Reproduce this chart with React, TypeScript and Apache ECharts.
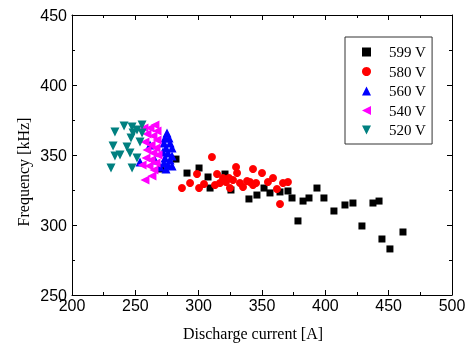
import React, { useEffect, useRef } from "react";
import * as echarts from "echarts";

const seriesNames = ["599 V", "580 V", "560 V", "540 V", "520 V"];
const xTitle = "Discharge current [A]";
const yTitle = "Frequency [kHz]";

const s599 = [
  [270.3, 340], [282.1, 347.1], [290.8, 337.1], [300.3, 340.7], [307.4, 334.3],
  [309, 326.4], [320.8, 336.4], [325.5, 325], [339.7, 318.6], [346, 321.4],
  [351.6, 326.4], [356.3, 322.9], [364.2, 323.6], [370.5, 324.3], [373.7, 319.3],
  [378.4, 302.9], [382.4, 317.1], [387.1, 319.3], [393.4, 326.4], [398.9, 319.3],
  [406.8, 310], [415.5, 314.3], [421.8, 315.7], [428.9, 299.3], [437.6, 315.7],
  [442.4, 317.1], [444.7, 290], [451, 282.9], [461.3, 295],
];
const s580 = [
  [286.8, 326.4], [293.2, 330], [298.7, 336.4], [300.3, 326.4], [304.2, 329.3],
  [310.5, 348.6], [314.5, 336.4], [316.8, 330], [319.2, 333.6], [323.9, 333.6],
  [324.7, 326.4], [327.1, 332.1], [329.5, 341.4], [330.3, 337.1], [332.6, 330],
  [335, 327.1], [338.2, 331.4], [340.5, 330.7], [342.9, 340], [342.9, 328.6],
  [345.3, 330], [350, 337.1], [354.7, 330.7], [358.7, 333.6], [361.8, 325.7],
  [364.2, 315], [366.6, 330], [370.5, 330.7], [321.6, 330.7], [312.9, 328.6],
];
const s560 = [
  [275, 365.7], [273.4, 362.1], [276.6, 362.1], [272.6, 358.6], [277.4, 358.6],
  [274.2, 355], [279, 355], [271.8, 352.1], [275.8, 351.4], [279, 349.3],
  [273.4, 347.9], [277.4, 346.4], [272.6, 344.3], [275.8, 342.9], [279, 342.1],
  [274.2, 340], [269.5, 341.4], [265.5, 346.4], [253.7, 345], [261.6, 357.1],
];
const s540 = [
  [265.5, 371.4], [261.6, 369.3], [267.1, 367.1], [259.2, 365], [263.9, 363.6],
  [267.1, 360.7], [257.6, 359.3], [262.4, 357.1], [266.3, 355], [259.2, 353.6],
  [263.9, 351.4], [267.9, 350], [258.4, 347.9], [262.4, 346.4], [266.3, 344.3],
  [260.8, 342.1], [264.7, 339.3], [257.6, 332.1], [263.1, 335], [255.3, 342.9],
  [256.8, 369.3],
];
const s520 = [
  [241.1, 370.7], [247.4, 370], [255.3, 371.4], [251.3, 367.9], [233.9, 366.4],
  [248.2, 365.7], [255.3, 365.7], [246.6, 362.1], [232.4, 356.4], [243.4, 355.7],
  [253.7, 359.3], [233.9, 349.3], [237.9, 350], [245.8, 351.4], [251.3, 347.9],
  [230.8, 340.7], [247.4, 340.7],
];

const seriesData = [s599, s580, s560, s540, s520];
const symbols = ["rect", "circle", "triangle", "triangle", "triangle"];
const legendIcons = [
  "rect", "circle", "triangle",
  "path://M0,5L10,0L10,10Z",
  "path://M0,0L10,0L5,10Z",
];
const rotations = [0, 0, 0, 90, 180];
const sizes = [7, 8, 9, 9, 9];
const colors = ["#000000", "#ff0000", "#0000ff", "#ff00ff", "#008080"];

export default function App() {
  const ref = useRef<HTMLDivElement>(null);
  useEffect(() => {
    if (!ref.current) return;
    const chart = echarts.init(ref.current, undefined, { renderer: "svg" });
    const axisCommon = {
      axisLine: { show: true, onZero: false, lineStyle: { color: "#000", width: 1 } },
      axisTick: { show: true, inside: true, length: 5, lineStyle: { color: "#000" } },
      minorTick: { show: true, splitNumber: 2, length: 3, lineStyle: { color: "#000" } },
      splitLine: { show: false },
    };
    const labelStyle = { fontFamily: "Liberation Sans", fontSize: 16, color: "#000" };
    chart.setOption({
      animation: false,
      grid: { left: 72, right: 18, top: 15, bottom: 52 },
      xAxis: [
        { type: "value", min: 200, max: 500, interval: 50, position: "bottom", ...axisCommon,
          axisLabel: { ...labelStyle, margin: 2 } },
        { type: "value", min: 200, max: 500, interval: 50, position: "top", ...axisCommon,
          axisLabel: { show: false } },
      ],
      yAxis: [
        { type: "value", min: 250, max: 450, interval: 50, position: "left", ...axisCommon,
          axisLabel: { ...labelStyle, margin: 5 } },
        { type: "value", min: 250, max: 450, interval: 50, position: "right", ...axisCommon,
          axisLabel: { show: false } },
      ],
      legend: {
        orient: "vertical", left: 345, top: 37, itemWidth: 9, itemHeight: 9, itemGap: 4.5,
        padding: [7.5, 6, 6.5, 17], borderColor: "#333", borderWidth: 1,
        textStyle: { fontFamily: "Liberation Serif", fontSize: 15, lineHeight: 15, color: "#000", padding: [0, 0, 0, 13] },
        data: seriesNames.map((name, i) => ({ name, icon: legendIcons[i] })),
      },
      graphic: [
        { type: "text", x: 253, y: 333, style: { text: xTitle, font: "16px 'Liberation Serif'", fill: "#000", textAlign: "center", textVerticalAlign: "middle" } },
        { type: "text", x: 23, y: 172, rotation: Math.PI / 2, style: { text: yTitle, font: "16px 'Liberation Serif'", fill: "#000", textAlign: "center", textVerticalAlign: "middle" } },
      ],
      series: seriesNames.map((name, i) => ({
        name, type: "scatter", data: seriesData[i], symbol: symbols[i], symbolRotate: rotations[i],
        symbolSize: sizes[i], itemStyle: { color: colors[i], opacity: 1 },
      })),
    });
    return () => chart.dispose();
  }, []);
  return <div ref={ref} style={{ position: "fixed", left: 0, top: 0, width: 470, height: 347 }} />;
}
